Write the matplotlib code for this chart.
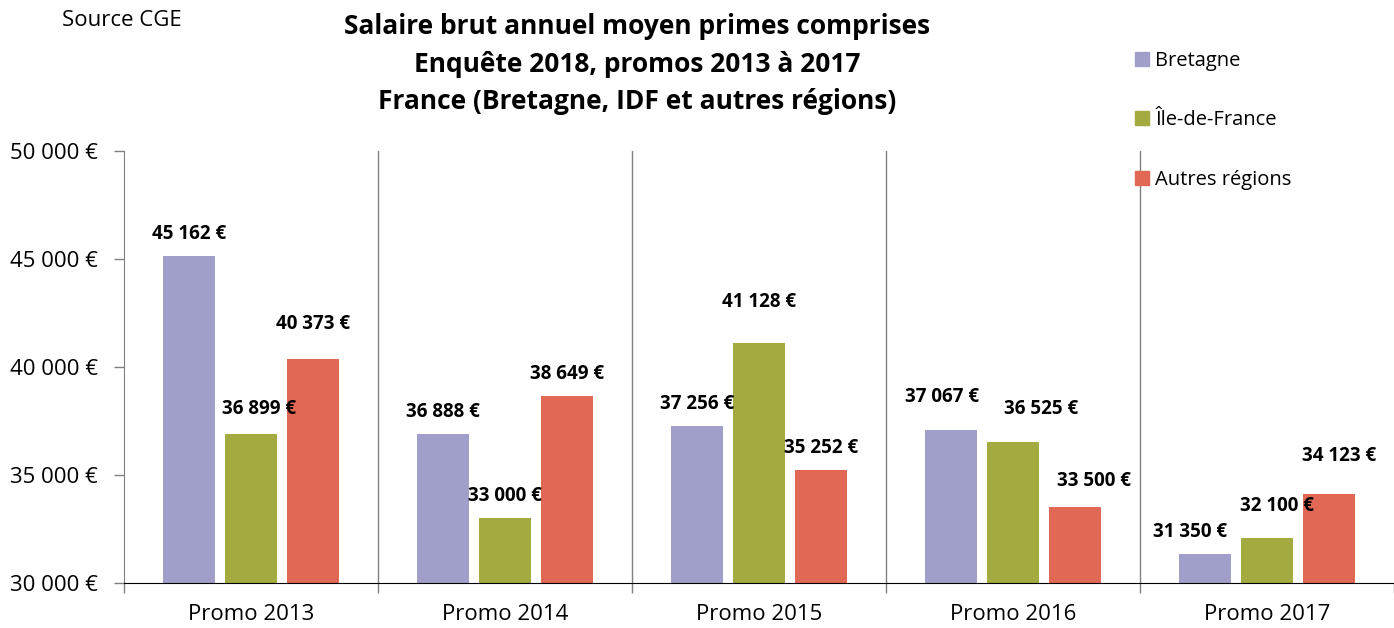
import numpy as np
import matplotlib
matplotlib.use("Agg")
import matplotlib.pyplot as plt
from matplotlib.patches import Patch
from matplotlib.ticker import FixedLocator

# ---------------- DATA ---------------- #
promos = ["Promo 2013", "Promo 2014", "Promo 2015", "Promo 2016", "Promo 2017"]
regions = ["Bretagne", "Île-de-France", "Autres régions"]
bretagne = [45162, 36888, 37256, 37067, 31350]
idf = [36899, 33000, 41128, 36525, 32100]
autres = [40373, 38649, 35252, 33500, 34123]
y_ticks = [30000, 35000, 40000, 45000, 50000]

# ---------------- STYLE ---------------- #
colors = ["#A09FC9", "#A2AA40", "#E06855"]
# manual label shifts (pixels) like in the original Excel chart
label_dx = [[0, 8, 0], [0, 0, 0], [0, 0, 0], [-9, 28, 19], [-15, 10, 10]]
label_dy = [[22, 25, 35], [22, 22, 22], [22, 41, 22], [33, 33, 26], [22, 32, 38]]

plt.rcParams['font.family'] = ['Open Sans', 'DejaVu Sans']

fig = plt.figure(figsize=(13.94, 6.28), dpi=100)
ax = fig.add_axes([124 / 1394, 1 - 583 / 628, 1270 / 1394, (583 - 151) / 628])

x = np.arange(len(promos))
width = 0.208
step = 0.244
series = [bretagne, idf, autres]
for i, vals in enumerate(series):
    bars = ax.bar(x + (i - 1) * step, vals, width, color=colors[i], zorder=3)
    for j, b in enumerate(bars):
        v = vals[j]
        txt = f"{v:,} €".replace(",", " ")
        ax.annotate(txt, (b.get_x() + b.get_width() / 2, v),
                    xytext=(label_dx[j][i], label_dy[j][i]),
                    textcoords="offset pixels", ha="center", va="center",
                    fontsize=13.5, fontweight="bold", zorder=4)

ax.set_xlim(-0.5, len(promos) - 0.5)
ax.set_ylim(30000, 50000)

ax.set_yticks(y_ticks)
ax.set_yticklabels([f"{t:,} €".replace(",", " ") for t in y_ticks])
ax.tick_params(axis="y", length=7, width=1, color="#808080", pad=12, labelsize=16)

# category boundaries as major ticks, names on minor ticks
bounds = np.arange(len(promos) + 1) - 0.5
ax.xaxis.set_major_locator(FixedLocator(bounds))
ax.xaxis.set_major_formatter(plt.NullFormatter())
ax.set_xticks(x, minor=True)
ax.set_xticklabels(promos, minor=True)
ax.tick_params(axis="x", which="major", length=7, width=1, color="#808080")
ax.tick_params(axis="x", which="minor", length=0, pad=15, labelsize=16)

for b in bounds[1:-1]:
    ax.axvline(b, color="#808080", lw=1, zorder=1)

for s in ["top", "right"]:
    ax.spines[s].set_visible(False)
ax.spines["left"].set_color("#808080")
ax.spines["bottom"].set_color("black")
ax.spines["bottom"].set_zorder(5)

fig.text(637 / 1394, 1 - 64 / 628,
         "Salaire brut annuel moyen primes comprises\nEnquête 2018, promos 2013 à 2017\nFrance (Bretagne, IDF et autres régions)",
         ha="center", va="center", fontsize=19, fontweight="bold", linespacing=1.5)
fig.text(62 / 1394, 1 - 20 / 628, "Source CGE", ha="left", va="center", fontsize=16)

handles = [Patch(color=c, label=r) for c, r in zip(colors, regions)]
fig.legend(handles=handles, loc="upper left", bbox_to_anchor=(1117 / 1394, 1 - 33 / 628),
           frameon=False, fontsize=14.5, handlelength=0.7, handleheight=0.7,
           handletextpad=0.3, labelspacing=1.95)

fig.savefig("out.png", dpi=100)
